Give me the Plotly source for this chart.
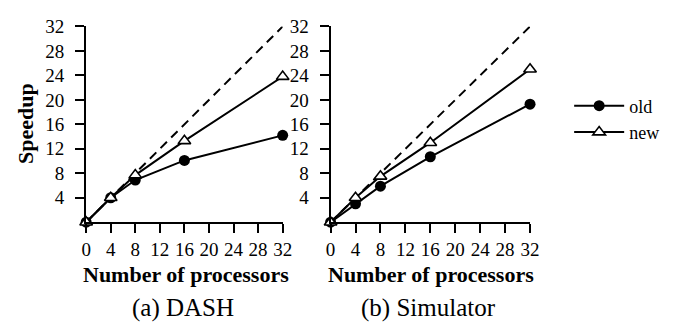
import plotly.graph_objects as go

processors = [0, 4, 8, 16, 32]
dash_old = [0, 4.0, 6.9, 10.1, 14.2]
dash_new = [0, 4.0, 7.7, 13.3, 23.8]
sim_old = [0, 3.0, 5.9, 10.7, 19.3]
sim_new = [0, 4.0, 7.5, 13.0, 25.0]
ideal = processors

x_ticks = [0, 4, 8, 12, 16, 20, 24, 28, 32]
y_ticks = [4, 8, 12, 16, 20, 24, 28, 32]

W, H = 674, 323
FONT = "Liberation Serif"

fig = go.Figure()

def add_panel(xa, ya, old, new, showleg):
    fig.add_trace(go.Scatter(x=processors, y=ideal, mode="lines",
                             line=dict(color="black", width=2, dash="9px,6px"),
                             showlegend=False, xaxis=xa, yaxis=ya, hoverinfo="skip",
                             cliponaxis=False))
    fig.add_trace(go.Scatter(x=processors, y=old, mode="lines+markers", name="old",
                             line=dict(color="black", width=2),
                             marker=dict(symbol="circle", size=11, color="black"),
                             showlegend=showleg, xaxis=xa, yaxis=ya, cliponaxis=False))
    fig.add_trace(go.Scatter(x=processors, y=new, mode="lines+markers", name="new",
                             line=dict(color="black", width=2),
                             marker=dict(symbol="triangle-up", size=11, color="white",
                                         line=dict(color="black", width=1.6)),
                             showlegend=showleg, xaxis=xa, yaxis=ya, cliponaxis=False))

add_panel("x", "y", dash_old, dash_new, True)
add_panel("x2", "y2", sim_old, sim_new, False)

ydom = [1 - 219 / H, 1 - 17 / H]
axis_common = dict(range=[0, 32], showline=True, linewidth=2, linecolor="black",
                   ticks="outside", ticklen=9, tickwidth=2, tickcolor="black",
                   showgrid=False, zeroline=False,
                   tickfont=dict(family=FONT, size=19, color="black"))

fig.update_layout(
    width=W, height=H, margin=dict(l=0, r=0, t=0, b=0),
    plot_bgcolor="white", paper_bgcolor="white",
    font=dict(family=FONT, color="black"),
    xaxis=dict(domain=[83 / W, 284 / W], anchor="y", tickvals=x_ticks, **axis_common),
    yaxis=dict(domain=ydom, anchor="x", tickvals=y_ticks, ticklabelstandoff=7, **axis_common),
    xaxis2=dict(domain=[333 / W, 537 / W], anchor="y2", tickvals=x_ticks, **axis_common),
    yaxis2=dict(domain=ydom, anchor="x2", tickvals=y_ticks, ticklabelstandoff=7, **axis_common),
    legend=dict(x=577 / W, y=1 - 80 / H, xanchor="left", yanchor="top",
                font=dict(family=FONT, size=18, color="black"),
                bgcolor="rgba(0,0,0,0)", itemwidth=50, tracegroupgap=0),
    showlegend=True,
)

def ann(text, x, y, size, bold=False, angle=0):
    fig.add_annotation(text=f"<b>{text}</b>" if bold else text,
                       x=x / W, y=1 - y / H, xref="paper", yref="paper",
                       xanchor="center", yanchor="middle", showarrow=False,
                       textangle=angle, font=dict(family=FONT, size=size, color="black"))

ann("Number of processors", 185, 273, 22, bold=True)
ann("Number of processors", 436, 273, 22, bold=True)
ann("(a) DASH", 182, 308, 25)
ann("(b) Simulator", 433, 308, 25)
ann("Speedup", 21, 117, 22, bold=True, angle=-90)

fig.write_html("out.html")
